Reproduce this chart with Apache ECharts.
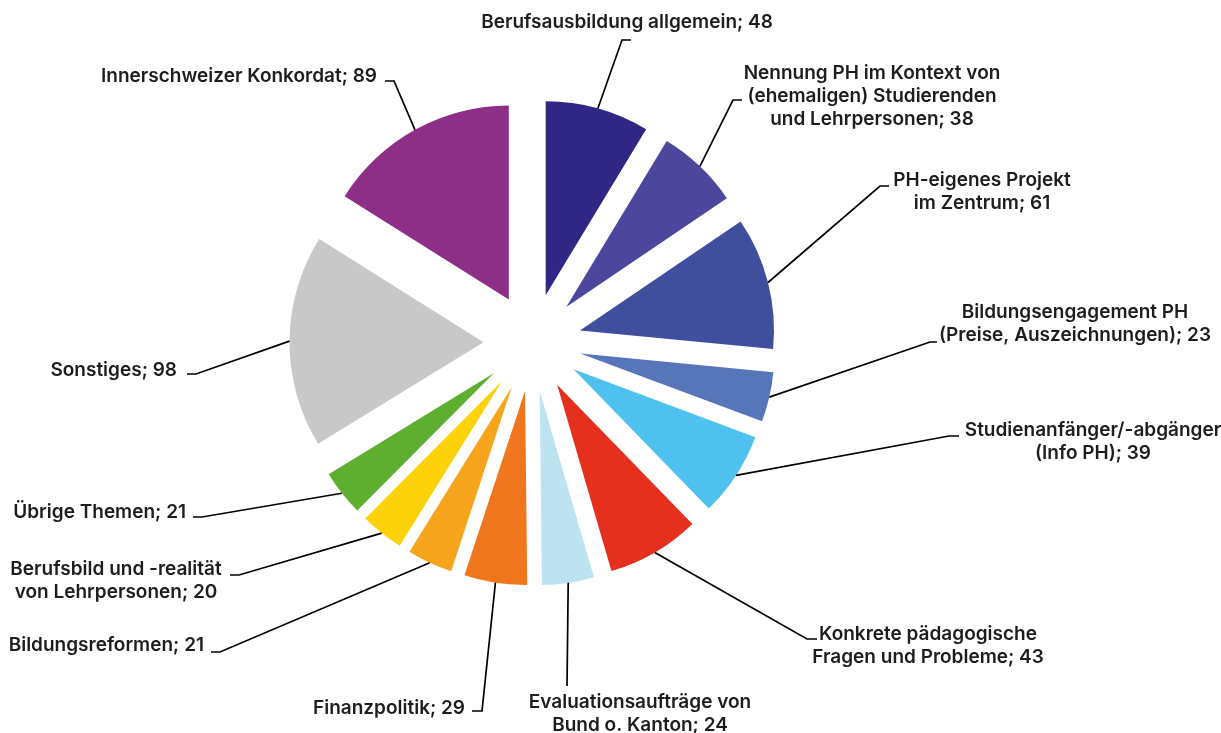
<!DOCTYPE html>
<html><head><meta charset="utf-8">
<script src="https://cdn.jsdelivr.net/npm/echarts@6/dist/echarts.min.js"></script>
<style>html,body{margin:0;padding:0;background:#fff}#c{width:1221px;height:733px}</style>
</head><body><div id="c"></div>
<script>
const categories = [
  'Berufsausbildung allgemein',
  'Nennung PH im Kontext von\n(ehemaligen) Studierenden\nund Lehrpersonen',
  'PH-eigenes Projekt\nim Zentrum',
  'Bildungsengagement PH\n(Preise, Auszeichnungen)',
  'Studienanfänger/-abgänger\n(Info PH)',
  'Konkrete pädagogische\nFragen und Probleme',
  'Evaluationsaufträge von\nBund o. Kanton',
  'Finanzpolitik',
  'Bildungsreformen',
  'Berufsbild und -realität\nvon Lehrpersonen',
  'Übrige Themen',
  'Sonstiges',
  'Innerschweizer Konkordat'
];
const values = [48, 38, 61, 23, 39, 43, 24, 29, 21, 20, 21, 98, 89];
const colors = ['#302683', '#4c479c', '#3f4e9d', '#5676b9', '#4fc1ee', '#e5301e', '#bde3f1',
                '#ef761c', '#f6a41b', '#fdd208', '#5eae30', '#c8c8c9', '#8d2e87'];

// layout / style settings
const CENTER = [532.5, 342.5];
const RADIUS = 194;
const OFFSET = 49;
// label placement: text anchor, leader-line elbow and end
const labelPlace = [
  {x: 627, y: 22, align: 'center', elbow: [622, 40], end: [631, 40]},
  {x: 872, y: 96, align: 'center', elbow: [733, 100], end: [742, 100]},
  {x: 982, y: 192, align: 'center', elbow: [880, 186], end: [889, 186]},
  {x: 1075, y: 324, align: 'center', elbow: [930, 342], end: [937, 342]},
  {x: 1093, y: 442, align: 'center', elbow: [949, 436], end: [959, 436]},
  {x: 928, y: 646, align: 'center', elbow: [807, 639], end: [817, 639]},
  {x: 640, y: 714, align: 'center', elbow: [567, 686], end: [567, 686]},
  {x: 465, y: 708, align: 'right', elbow: [482, 711], end: [472, 711]},
  {x: 204, y: 645, align: 'right', elbow: [220, 652], end: [211, 652]},
  {x: 116, y: 581, align: 'center', elbow: [239, 575], end: [230, 575]},
  {x: 186, y: 512, align: 'right', elbow: [202, 517], end: [193, 517]},
  {x: 177, y: 370, align: 'right', elbow: [196, 374], end: [187, 374]},
  {x: 377, y: 76, align: 'right', elbow: [394, 81], end: [385, 81]}
];

const chart = echarts.init(document.getElementById('c'), null, {renderer: 'canvas'});
chart.setOption({
  backgroundColor: '#ffffff',
  animation: false,
  series: [{
    // exploded slices
    type: 'pie',
    center: CENTER,
    radius: [0, RADIUS],
    startAngle: 90,
    clockwise: true,
    selectedMode: 'multiple',
    selectedOffset: OFFSET,
    silent: true,
    emphasis: {disabled: true},
    select: {itemStyle: {borderWidth: 0}},
    itemStyle: {borderWidth: 0},
    label: {show: false},
    labelLine: {show: false},
    data: categories.map(function (n, i) {
      return {name: n, value: values[i], selected: true, itemStyle: {color: colors[i]}};
    })
  }, {
    // labels and leader lines
    type: 'pie',
    center: CENTER,
    radius: [0, RADIUS],
    startAngle: 90,
    clockwise: true,
    silent: true,
    z: 3,
    emphasis: {disabled: true},
    itemStyle: {color: 'rgba(0,0,0,0)', borderWidth: 0},
    avoidLabelOverlap: false,
    label: {
      show: true,
      formatter: '{b}; {c}',
      color: '#1d1d1b',
      fontFamily: 'Inter',
      fontWeight: 600,
      fontSize: 19,
      lineHeight: 23
    },
    labelLine: {show: true, length: 20, length2: 10, lineStyle: {color: '#000', width: 1.7}},
    labelLayout: function (p) {
      const s = labelPlace[p.dataIndex];
      const out = {x: s.x, y: s.y, align: s.align, verticalAlign: 'middle'};
      if (p.labelLinePoints) {
        const p0 = p.labelLinePoints[0];
        const k = OFFSET / RADIUS;
        const start = [p0[0] + (p0[0] - CENTER[0]) * k, p0[1] + (p0[1] - CENTER[1]) * k];
        out.labelLinePoints = [start, s.elbow, s.end];
      }
      return out;
    },
    data: categories.map(function (n, i) {
      return {name: n, value: values[i]};
    })
  }]
});
</script></body></html>
